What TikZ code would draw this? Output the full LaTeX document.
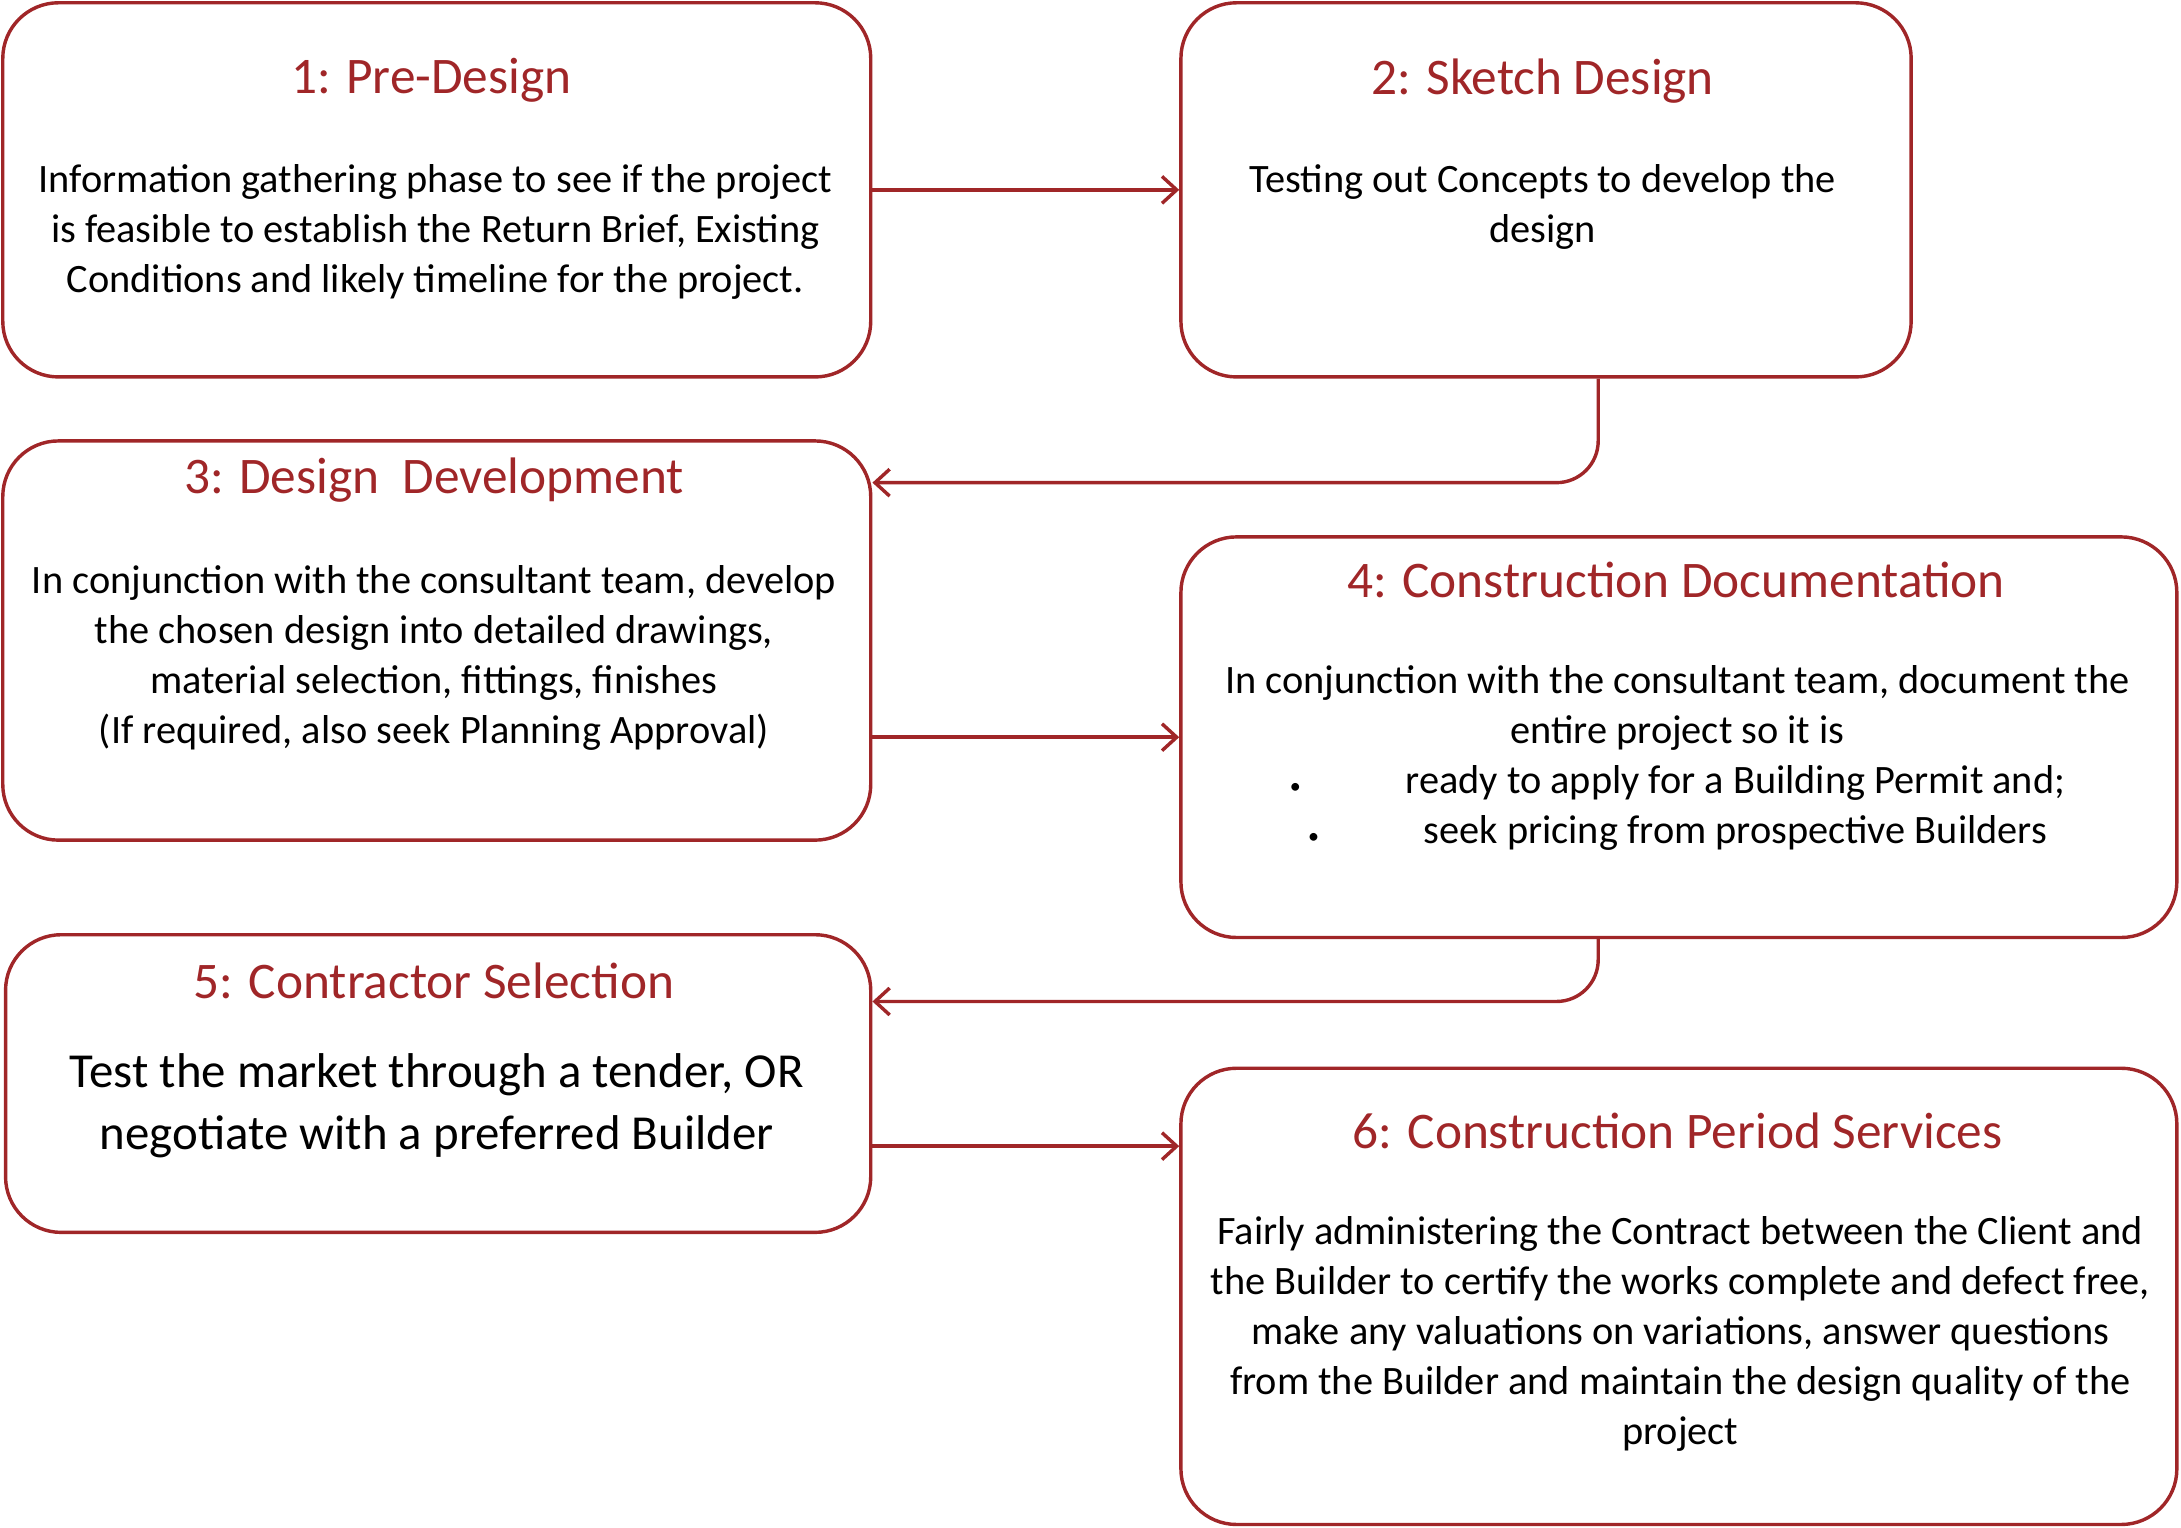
\documentclass[tikz,border=0pt]{standalone}
\usepackage{fontspec}
\setmainfont{Carlito}
\usetikzlibrary{arrows.meta,calc}
\definecolor{stagered}{RGB}{160,38,40}
\tikzset{
  stage/.style={draw=stagered,line width=1.4pt,rounded corners=0.8cm,inner sep=0pt},
  title/.style={text=stagered,font=\fontsize{21}{25}\selectfont,inner sep=0pt},
  body/.style={align=center,font=\fontsize{16.5}{20.5}\selectfont,inner sep=0pt},
  flow/.style={draw=stagered,line width=1.4pt,-{Straight Barb[length=6pt,width=11pt]},rounded corners=0.6cm}
}
\newcommand\stagedot{{\fontsize{9}{9}\selectfont\textbullet}\hspace{2.6em}}
\begin{document}
\begin{tikzpicture}[x=0.02cm,y=-0.02cm]
\useasboundingbox (0,0) rectangle (1568,1098);
% stage boxes
\node (b1) [stage,minimum width=624*0.02cm,minimum height=269*0.02cm] at (314,136.5) {};
\node (b2) [stage,minimum width=525*0.02cm,minimum height=269*0.02cm] at (1111.5,136.5) {};
\node (b3) [stage,minimum width=624*0.02cm,minimum height=287*0.02cm] at (314,460.5) {};
\node (b4) [stage,minimum width=716*0.02cm,minimum height=288*0.02cm] at (1207,530) {};
\node (b5) [stage,minimum width=622*0.02cm,minimum height=214*0.02cm] at (315,779) {};
\node (b6) [stage,minimum width=716*0.02cm,minimum height=328*0.02cm] at (1207,932) {};
% titles
\node (t1) [title] at (310,58) {1: Pre-Design};
\node (t2) [title] at (1109,58) {2: Sketch Design};
\node (t3) [title] at (312,345) {3: Design\ \ Development};
\node (t4) [title] at (1205,417) {4: Construction Documentation};
\node (t5) [title] at (312,705) {5: Contractor Selection};
\node (t6) [title] at (1206,813) {6: Construction Period Services};
% texts
\node (x1) [body] at (313,167) {Information gathering phase to see if the project\\ is feasible to establish the Return Brief, Existing\\ Conditions and likely timeline for the project.};
\node (x2) [body] at (1109,149) {Testing out Concepts to develop the\\ design};
\node (x3) [body] at (312,473) {In conjunction with the consultant team, develop\\ the chosen design into detailed drawings,\\ material selection, fittings, finishes\\ (If required, also seek Planning Approval)};
\node (x4) [body] at (1206,545) {In conjunction with the consultant team, document the\\ entire project so it is\\ \stagedot ready to apply for a Building Permit and;\\ \stagedot seek pricing from prospective Builders};
\node (x5) [body,font=\fontsize{20}{25.5}\selectfont] at (314,795) {Test the market through a tender, OR\\ negotiate with a preferred Builder};
\node (x6) [body] at (1208,959) {Fairly administering the Contract between the Client and\\ the Builder to certify the works complete and defect free,\\ make any valuations on variations, answer questions\\ from the Builder and maintain the design quality of the\\ project};
% connectors
\coordinate (c2) at (1149,347);
\coordinate (c4) at (1149,720);
\draw [flow] (b1.east) -- (b2.west);
\draw [flow] (b2.south -| c2) -- (c2) -- (b3.east |- c2);
\draw [flow] (b3.east |- b4.west) -- (b4.west);
\draw [flow] (b4.south -| c4) -- (c4) -- (b5.east |- c4);
\draw [flow] ($(b5.east)+(0,45)$) -- (b6.west |- {$(b5.east)+(0,45)$});
\end{tikzpicture}
\end{document}
